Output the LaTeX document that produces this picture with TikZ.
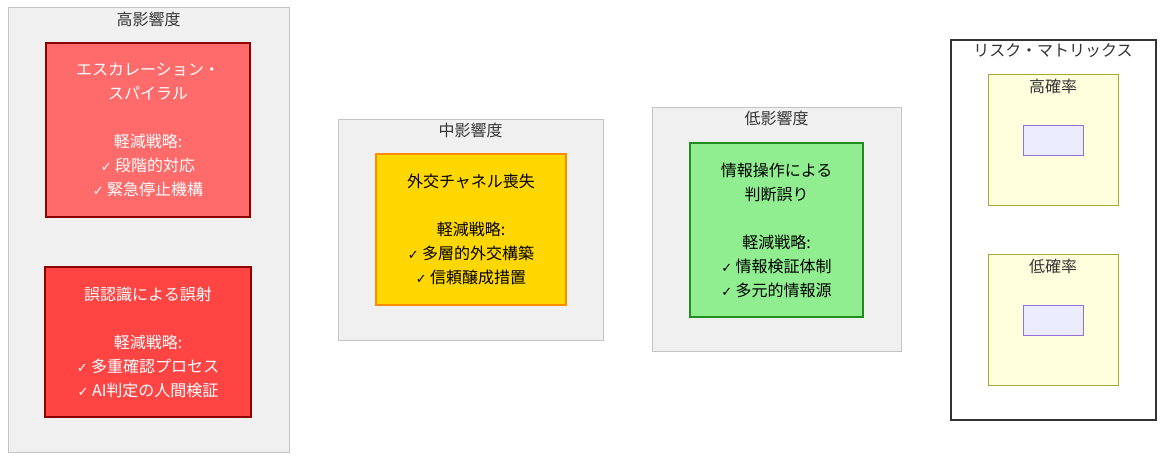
\documentclass[tikz,border=0pt]{standalone}
\usepackage{fontspec}
\setmainfont{Noto Sans CJK JP}
\newfontfamily\symfont{DejaVu Sans}
\usepackage{tikz}
\usetikzlibrary{positioning}
\usepackage{xcolor}
\definecolor{grpfill}{HTML}{F0F0F0}
\definecolor{grpline}{HTML}{C4C4C4}
\definecolor{esc}{HTML}{FF6B6B}
\definecolor{mis}{HTML}{FF4444}
\definecolor{redline}{HTML}{8B0000}
\definecolor{dip}{HTML}{FFD700}
\definecolor{dipline}{HTML}{FF8C00}
\definecolor{info}{HTML}{90EE90}
\definecolor{infoline}{HTML}{228B22}
\definecolor{probfill}{HTML}{FFFFDE}
\definecolor{probline}{HTML}{AAAA33}
\definecolor{cellfill}{HTML}{ECECFF}
\definecolor{cellline}{HTML}{9370DB}
\definecolor{ttlcol}{HTML}{333333}
\newcommand\chk{{\symfont\fontsize{13}{24}\selectfont ✓}}

\begin{document}
\begin{tikzpicture}[x=1pt,y=-1pt,
  every node/.style={align=center,font=\fontsize{16}{24}\selectfont},%
  grp/.style={draw=grpline,fill=grpfill,line width=1pt,inner sep=0pt},%
  r/.style={line width=2pt,inner sep=0pt},%
  ttl/.style={inner sep=0pt,text=ttlcol},%
  prob/.style={draw=probline,fill=probfill,line width=1pt,inner sep=0pt,
    minimum width=130pt,minimum height=131pt},%
  cell/.style={draw=cellline,fill=cellfill,line width=1pt,inner sep=0pt,
    minimum width=60pt,minimum height=30pt},%
  ]
  \useasboundingbox (0,0) rectangle (1164,460);

  % impact groups
  \node (high) [grp,minimum width=281pt,minimum height=444pt] at (148.5,230) {};
  \node (mid) [grp,minimum width=265pt,minimum height=221pt] at (470.5,229.5) {};
  \node (low) [grp,minimum width=249pt,minimum height=244pt] at (776.5,229.5) {};

  \node (hightitle) [ttl,below=4pt of high.north] {高影響度};
  \node (midtitle) [ttl,below=4pt of mid.north] {中影響度};
  \node (lowtitle) [ttl,below=4pt of low.north] {低影響度};

  \node (escalation) [r,
  fill=esc,draw=redline,text=white,
  minimum width=204pt,minimum height=174pt,
  ] at (148,130) {エスカレーション・\\スパイラル\\[24pt]軽減戦略:\\\chk\ 段階的対応\\\chk\ 緊急停止機構};

  \node (misfire) [r,
  fill=mis,draw=redline,text=white,
  minimum width=206pt,minimum height=150pt,
  ] at (148,342) {誤認識による誤射\\[24pt]軽減戦略:\\\chk\ 多重確認プロセス\\\chk\ AI判定の人間検証};

  \node (diplomacy) [r,
  fill=dip,draw=dipline,text=black,
  minimum width=190pt,minimum height=151pt,
  ] at (471,229.5) {外交チャネル喪失\\[24pt]軽減戦略:\\\chk\ 多層的外交構築\\\chk\ 信頼醸成措置};

  \node (infoop) [r,
  fill=info,draw=infoline,text=black,
  minimum width=173pt,minimum height=174pt,
  ] at (776.5,230) {情報操作による\\判断誤り\\[24pt]軽減戦略:\\\chk\ 情報検証体制\\\chk\ 多元的情報源};

  % risk matrix
  \node (matrix) [draw=ttlcol,fill=white,line width=2pt,inner sep=0pt,
  minimum width=205pt,minimum height=380pt] at (1053,230) {};
  \node (matrixtitle) [ttl,below=4pt of matrix.north] {リスク・マトリックス};

  \node (hiprob) [prob] at (1053,139.5) {};
  \node (hiprobtitle) [ttl,below=5pt of hiprob.north] {高確率};
  \node (hicell) [cell] at (1053,140) {};

  \node (loprob) [prob] at (1053,319.5) {};
  \node (loprobtitle) [ttl,below=5pt of loprob.north] {低確率};
  \node (locell) [cell] at (1053,320) {};
\end{tikzpicture}
\end{document}
